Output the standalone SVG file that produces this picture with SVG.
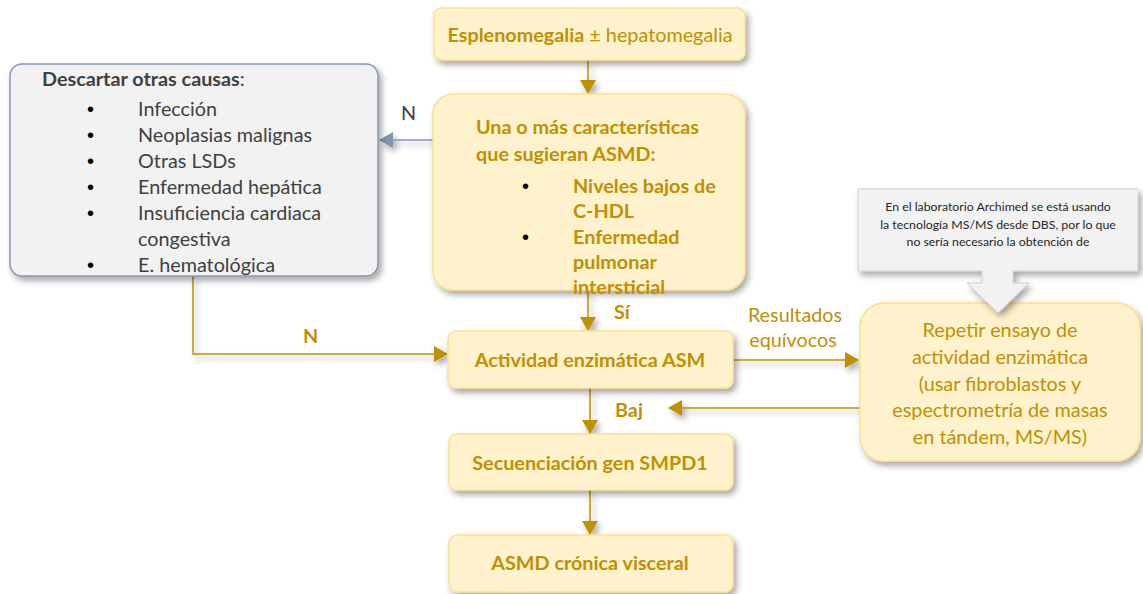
<svg xmlns="http://www.w3.org/2000/svg" width="1143" height="594" viewBox="0 0 1143 594">
<defs>
<style>
.y{fill:#FFF2CC;stroke:#FFE08A;stroke-width:1.5}
.g{fill:#F2F2F2;stroke:#8497B0;stroke-width:1.5}
.t{font-family:Lato,"Liberation Sans",sans-serif;fill:#BF9000;font-size:19.8px}
.b{font-weight:bold}
.d{font-family:Lato,"Liberation Sans",sans-serif;fill:#404040;font-size:19.8px}
.k{font-family:"Liberation Sans",sans-serif;fill:#000;font-size:20px}
.c{fill:none;stroke:#BF9000;stroke-width:1.5}
.cb{fill:none;stroke:#8497B0;stroke-width:1.5}
.s{font-family:Lato,"Liberation Sans",sans-serif;fill:#262626;font-size:12.3px}
</style>
<filter id="sh" x="-10%" y="-10%" width="130%" height="140%">
<feDropShadow dx="3" dy="4" stdDeviation="3" flood-color="#000" flood-opacity="0.35"/>
</filter>
<marker id="ag" markerWidth="14" markerHeight="16" refX="13" refY="8" orient="auto" markerUnits="userSpaceOnUse">
<path d="M0,0 L14,8 L0,16 Z" fill="#BF9000"/>
</marker>
<marker id="ab" markerWidth="14" markerHeight="16" refX="13" refY="8" orient="auto" markerUnits="userSpaceOnUse">
<path d="M0,0 L14,8 L0,16 Z" fill="#8497B0"/>
</marker>
</defs>
<rect width="1143" height="594" fill="#fff"/>

<g id="connectors">
<g filter="url(#sh)">
<line class="c" x1="588" y1="60" x2="588" y2="93" marker-end="url(#ag)"/>
<line class="cb" x1="433" y1="140" x2="380" y2="140" marker-end="url(#ab)"/>
<polyline class="c" points="193,276 193,354 447,354" marker-end="url(#ag)"/>
<line class="c" x1="588" y1="290" x2="588" y2="330" marker-end="url(#ag)"/>
<line class="c" x1="733" y1="360" x2="858" y2="360" marker-end="url(#ag)"/>
<line class="c" x1="860" y1="408" x2="669" y2="408" marker-end="url(#ag)"/>
<line class="c" x1="590" y1="388" x2="590" y2="433" marker-end="url(#ag)"/>
<line class="c" x1="590" y1="490" x2="590" y2="534" marker-end="url(#ag)"/>
</g>
<text class="d" x="401" y="120">N</text>
<text class="t b" x="303" y="343">N</text>
<text class="t b" x="614" y="319">Sí</text>
<text class="t" x="795" y="322" text-anchor="middle">Resultados</text>
<text class="t" x="793" y="347" text-anchor="middle">equívocos</text>
<text class="t b" x="615" y="417">Baj</text>
</g>

<g id="n-esplenomegalia">
<rect class="y" x="434" y="8" width="311" height="52" rx="8" filter="url(#sh)"/>
<text class="t" x="590" y="42" text-anchor="middle"><tspan class="b">Esplenomegalia</tspan> ± hepatomegalia</text>
</g>

<g id="n-caracteristicas">
<rect class="y" x="433" y="94" width="312" height="196" rx="20" filter="url(#sh)"/>
<text class="t b" x="476" y="134">Una o más características</text>
<text class="t b" x="476" y="161">que sugieran ASMD:</text>
<text class="k" x="522" y="193">•</text>
<text class="t b" x="573" y="193">Niveles bajos de</text>
<text class="t b" x="573" y="218">C-HDL</text>
<text class="k" x="522" y="244">•</text>
<text class="t b" x="573" y="244">Enfermedad</text>
<text class="t b" x="573" y="269">pulmonar</text>
<text class="t b" x="573" y="294">intersticial</text>
</g>

<g id="n-descartar">
<rect class="g" x="10" y="64" width="368" height="212" rx="12" filter="url(#sh)"/>
<text class="d" x="42" y="86"><tspan class="b">Descartar otras causas</tspan>:</text>
<text class="k" x="87" y="116">•</text><text class="d" x="138" y="116">Infección</text>
<text class="k" x="87" y="142">•</text><text class="d" x="138" y="142">Neoplasias malignas</text>
<text class="k" x="87" y="168">•</text><text class="d" x="138" y="168">Otras LSDs</text>
<text class="k" x="87" y="194">•</text><text class="d" x="138" y="194">Enfermedad hepática</text>
<text class="k" x="87" y="220">•</text><text class="d" x="138" y="220">Insuficiencia cardiaca</text>
<text class="d" x="138" y="246">congestiva</text>
<text class="k" x="87" y="272">•</text><text class="d" x="138" y="272">E. hematológica</text>
</g>

<g id="n-actividad">
<rect class="y" x="448" y="331" width="285" height="57" rx="8" filter="url(#sh)"/>
<text class="t b" x="590" y="367" text-anchor="middle">Actividad enzimática ASM</text>
</g>

<g id="n-repetir">
<rect class="y" x="860" y="303" width="280" height="158" rx="24" filter="url(#sh)"/>
<text class="t" x="1000" y="337" text-anchor="middle">Repetir ensayo de</text>
<text class="t" x="1000" y="364" text-anchor="middle">actividad enzimática</text>
<text class="t" x="1000" y="391" text-anchor="middle">(usar fibroblastos y</text>
<text class="t" x="1000" y="417" text-anchor="middle">espectrometría de masas</text>
<text class="t" x="1000" y="444" text-anchor="middle">en tándem, MS/MS)</text>
</g>

<g id="n-callout">
<path d="M858,189 H1138 V271 H1013 V283 H1029 L998,313 L967,283 H982 V271 H858 Z" fill="#F2F2F2" stroke="#D0D0D0" stroke-width="1" filter="url(#sh)"/>
<text class="s" x="998" y="211" text-anchor="middle">En el laboratorio Archimed se está usando</text>
<text class="s" x="998" y="229" text-anchor="middle">la tecnología MS/MS desde DBS, por lo que</text>
<text class="s" x="998" y="246" text-anchor="middle">no sería necesario la obtención de</text>
</g>

<g id="n-secuenciacion">
<rect class="y" x="449" y="434" width="284" height="56" rx="8" filter="url(#sh)"/>
<text class="t b" x="590" y="470" text-anchor="middle">Secuenciación gen SMPD1</text>
</g>

<g id="n-asmd">
<rect class="y" x="449" y="535" width="284" height="57" rx="8" filter="url(#sh)"/>
<text class="t b" x="590" y="570" text-anchor="middle">ASMD crónica visceral</text>
</g>
</svg>
